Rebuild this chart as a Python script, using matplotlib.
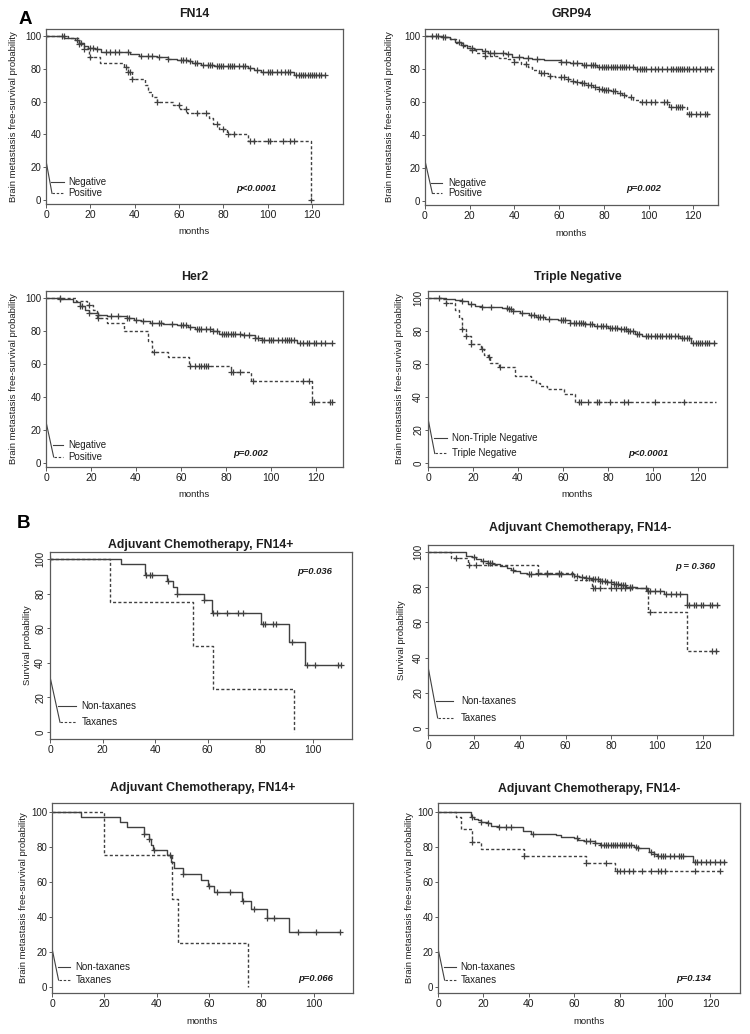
import numpy as np
import matplotlib
matplotlib.use("Agg")
import matplotlib.pyplot as plt

plt.rcParams["font.family"] = ["Liberation Sans", "DejaVu Sans"]

# ---------------- Panel A: FN14 ----------------
fn14_neg_t = [0, 8, 13, 15, 17, 19, 22, 25, 33, 38, 42, 50, 55, 59, 64, 66, 70, 76, 82, 91, 94, 97, 112, 126]
fn14_neg_s = [100, 99, 97.5, 96, 94, 93, 92, 90.5, 90, 89, 88, 87, 86, 85.5, 84.5, 83.5, 82.5, 82, 81.5, 80.5, 79.5, 78, 76, 76]
fn14_neg_c = [7, 14, 16, 20, 21, 23, 27, 29, 31, 33, 37, 43, 46, 48, 51, 55, 61, 62, 63, 65, 67, 68, 71, 73,
              74, 75, 77, 78, 79, 80, 82, 83, 84, 85, 87, 89, 90, 92, 95, 98, 100, 101, 102, 104, 106, 108,
              109, 110, 113, 114, 115, 116, 117, 118, 119, 120, 121, 122, 123, 124, 126]
fn14_pos_t = [0, 10, 15, 17, 19.5, 24.5, 35, 37, 39, 44.5, 46, 48, 50, 57.5, 60.5, 63.5, 73.5, 75.5, 78, 81.5, 91, 119.5]
fn14_pos_s = [100, 99, 95, 92, 87, 83.5, 81, 78, 74, 70, 66, 63, 60, 58, 55.5, 53, 50, 46.5, 43, 40, 36, 0]
fn14_pos_c = [0, 8, 15, 17, 20, 36, 37, 38, 39, 50, 60, 63, 68, 72, 77, 80, 82, 85, 92, 94, 100, 101, 107,
              110, 112, 119.5]

# ---------------- Panel A: GRP94 ----------------
grp_neg_t = [0, 7, 11, 13.5, 16, 19, 22, 25.5, 28, 36, 39, 44, 48, 53, 61, 65, 70, 77, 94, 128]
grp_neg_s = [100, 99.5, 98.5, 96.5, 94.5, 93, 92, 91, 90, 89, 87.5, 86.5, 86, 85.5, 84.5, 83.5, 82.5, 81.5, 80, 80]
grp_neg_c = [3, 6, 9, 15, 17, 21, 27, 29, 31, 35, 37, 42, 46, 50, 61, 63, 66, 68, 71, 72, 74, 75, 76, 78,
             79, 80, 81, 82, 83, 84, 85, 86, 87, 88, 89, 90, 91, 93, 95, 96, 97, 98, 99, 101, 103, 104,
             106, 108, 110, 111, 112, 113, 114, 115, 116, 117, 118, 120, 121, 123, 125, 126, 128]
grp_pos_t = [0, 8, 11, 14, 17, 20, 23, 27, 33, 37, 40, 43, 46, 48, 51, 55, 58, 63, 65, 67, 70, 72, 75, 78,
             80, 83, 86, 88, 90, 93, 96, 109, 117, 128]
grp_pos_s = [100, 99.5, 98, 96, 94, 91.5, 89.5, 88, 87, 86, 84.5, 83, 81.5, 79.5, 77.5, 76, 75, 74, 73, 72,
             71.5, 70.5, 69, 68, 67.5, 66.5, 65.5, 64.5, 63, 61.5, 60, 57, 52.5, 52.5]
grp_pos_c = [5, 8, 21, 27, 40, 45, 52, 53, 56, 61, 62, 64, 66, 68, 70, 71, 73, 74, 76, 78, 79, 80, 81, 82,
             84, 85, 87, 89, 92, 97, 99, 101, 103, 107, 108, 110, 112, 113, 114, 115, 118, 119, 121, 123,
             125, 126]

# ---------------- Panel A: Her2 ----------------
her2_neg_t = [0, 6, 12, 15, 17.5, 19, 23, 27, 36, 39, 42, 46, 52, 58, 63, 66, 70, 74, 77, 87, 93, 96, 111.5, 127]
her2_neg_s = [100, 99.5, 97.5, 95, 93, 91, 90, 89, 88, 86.5, 86, 85, 84.5, 83.5, 82.5, 81.5, 81, 80, 78.5,
              77.5, 76, 74.5, 72.5, 72.5]
her2_neg_c = [6, 15, 16, 19, 23, 29, 32, 36, 37, 40, 43, 47, 50, 51, 56, 60, 61, 62, 64, 67, 68, 69, 71, 73,
              74, 76, 78, 79, 80, 81, 82, 83, 84, 86, 88, 90, 93, 94, 96, 97, 99, 100, 101, 103, 105, 106,
              107, 108, 109, 110, 113, 114, 116, 117, 119, 120, 122, 124, 127]
her2_pos_t = [0, 13.5, 18, 21, 22.5, 27, 34.5, 45.5, 47, 54, 63.5, 82, 91, 118, 127]
her2_pos_s = [100, 98, 96, 93, 88, 85, 80, 74, 67, 64.5, 59, 55, 49.5, 37, 37]
her2_pos_c = [6, 19, 23, 48, 64, 66, 68, 69, 70, 71, 72, 82, 83, 86, 92, 114, 117, 118, 119, 126, 127]

# ---------------- Panel A: Triple Negative ----------------
ntn_t = [0, 8, 12, 15, 18, 21, 24, 33, 36, 38, 41, 45, 48, 52, 58, 63, 70, 74, 80, 85, 89, 92, 95, 112, 117, 127.5]
ntn_s = [100, 99.5, 99, 98, 96.5, 95, 94.5, 94, 93.5, 92, 91, 89.5, 88.5, 87.5, 86.5, 85, 84.5, 83, 82, 81,
         80, 78.5, 77, 75.5, 72.5, 72.5]
ntn_c = [5, 15, 19, 24, 28, 35, 36, 37, 38, 42, 46, 47, 49, 50, 51, 54, 59, 60, 61, 63, 65, 66, 67, 68, 69,
         70, 72, 73, 75, 77, 78, 79, 81, 82, 83, 84, 86, 87, 88, 89, 90, 91, 93, 94, 97, 98, 99, 101, 102,
         103, 104, 106, 107, 108, 110, 111, 113, 114, 115, 116, 118, 119, 120, 121, 122, 123, 124, 125, 127]
tn_t = [0, 6, 8, 12, 14, 15, 17, 19, 23.5, 25, 26.5, 27.5, 31.5, 38.5, 46, 48, 50, 53, 60.5, 65.5, 128]
tn_s = [100, 99.5, 97, 93, 88, 81, 77, 72, 69, 65.5, 64, 60.5, 58, 53, 50, 48.5, 46.5, 45, 42, 37, 37]
tn_c = [8, 15, 17, 19, 24, 27, 32, 67, 68, 71, 75, 76, 81, 87, 89, 101, 114]

# ---------------- Panel B: survival, FN14+ ----------------
b1_ntx_t = [0, 27, 36, 44.5, 47, 48.5, 58.5, 61.5, 80.5, 91, 97, 111]
b1_ntx_s = [100, 97, 91, 87, 83.5, 80, 76, 69, 62.5, 52, 39, 39]
b1_ntx_c = [0, 36.5, 38, 39, 45, 48.5, 58.5, 62, 63.5, 67.5, 71.5, 73.5, 81, 82, 85, 86, 92, 98, 101, 109.5, 111]
b1_tx_t = [0, 23, 54.5, 62, 93]
b1_tx_s = [100, 75, 50, 25, 0]
b1_tx_c = []

# ---------------- Panel B: survival, FN14- ----------------
b2_ntx_t = [0, 16.5, 19, 21, 23, 26, 28.5, 31.5, 34.5, 36, 37.5, 40, 43, 63.5, 66, 69, 72, 75, 78, 81, 84,
            86.5, 91, 95.5, 103, 113, 126.5]
b2_ntx_s = [100, 98, 97, 96, 95, 94, 93, 92, 91, 90, 89, 88, 87.5, 86.5, 86, 85, 84.5, 83.5, 83, 82, 81, 80,
            79.5, 78, 76, 70, 70]
b2_ntx_c = [20, 24, 26, 27, 28, 37, 44, 45, 52, 57, 58, 63, 65, 67, 69, 70, 72, 73, 74, 75, 76, 77, 78, 80,
            81, 82, 83, 84, 85, 86, 88, 89, 95, 96, 97, 99, 101, 104, 106, 108, 110, 113, 114, 116, 117, 119,
            120, 123, 124, 126]
b2_tx_t = [0, 10, 17.5, 48, 63.5, 71.5, 96, 113, 126.5]
b2_tx_s = [100, 96.5, 92.5, 88, 84, 79.5, 66, 44, 44]
b2_tx_c = [12, 18, 21, 48, 52, 57, 72, 73, 75, 80, 82, 84, 86, 88, 97, 124, 125.5]

# ---------------- Panel B: brain metastasis, FN14+ ----------------
b3_ntx_t = [0, 11, 26, 28.5, 35, 37, 38, 38.5, 44, 45.5, 46.5, 50, 57, 59.5, 62, 72.5, 76, 82, 90.5, 110]
b3_ntx_s = [100, 97, 94, 91, 87.5, 84.5, 81, 78, 75, 71.5, 68, 64.5, 61, 57.5, 54, 49, 44.5, 39.5, 31.5, 31.5]
b3_ntx_c = [35, 37, 39, 45, 50, 60, 63, 68, 73, 77, 82, 85, 94, 101, 110]
b3_tx_t = [0, 20, 46, 48, 75]
b3_tx_s = [100, 75, 50, 25, 0]
b3_tx_c = []

# ---------------- Panel B: brain metastasis, FN14- ----------------
b4_ntx_t = [0, 14.5, 16, 17.5, 19, 22, 23.5, 26.5, 37.5, 41, 52, 54, 60, 61.5, 64.5, 69, 71.5, 86.5, 88, 93,
            95, 96.5, 112.5, 126.5]
b4_ntx_s = [100, 97, 96, 95, 94, 93.5, 92, 91, 89, 87.5, 86.5, 85.5, 85, 84, 83, 82, 81, 80, 79.5, 77, 76,
            74.5, 71.5, 71.5]
b4_ntx_c = [15, 19, 22, 27, 30, 32, 42, 61, 65, 67, 69, 72, 73, 74, 75, 76, 77, 78, 79, 80, 81, 82, 83, 84,
            85, 87, 88, 94, 95, 97, 98, 99, 100, 102, 104, 106, 107, 108, 113, 114, 116, 118, 120, 122, 124, 126]
b4_tx_t = [0, 8, 10, 15, 19, 38, 65, 78, 125]
b4_tx_s = [100, 97, 90, 82.5, 78.5, 74.5, 70.5, 66, 66]
b4_tx_c = [15, 38, 65, 74, 79, 80, 82, 84, 86, 90, 94, 97, 98, 100, 113, 124]

titles = ["FN14", "GRP94", "Her2", "Triple Negative",
          "Adjuvant Chemotherapy, FN14+", "Adjuvant Chemotherapy, FN14-",
          "Adjuvant Chemotherapy, FN14+", "Adjuvant Chemotherapy, FN14-"]
pvalues = ["p<0.0001", "p=0.002", "p=0.002", "p<0.0001", "p=0.036", "p = 0.360", "p=0.066", "p=0.134"]
legend_a = ["Negative", "Positive"]
legend_tn = ["Non-Triple Negative", "Triple Negative"]
legend_b = ["Non-taxanes", "Taxanes"]
ylab_bm = "Brain metastasis free-survival probability"
ylab_os = "Survival probability"

LINE = "#404040"
FRAME = "#5a5a5a"
TXT = "#1e1e1e"
DASH = (0, (2.2, 1.6))
W, H = 750, 1034

panels = [
    dict(box=(46, 29, 343, 204), xmax=134, xt=range(0, 121, 20), ylim=(-2.5, 104.3), rot=False,
         curves=[(fn14_neg_t, fn14_neg_s, fn14_neg_c), (fn14_pos_t, fn14_pos_s, fn14_pos_c)],
         leg=legend_a, legpos=(24, 11, 4, 2.7, 8, 10), p=(86, 7), ylab=ylab_bm, ylpad=33, months=True, tgap=15),
    dict(box=(425, 29, 718, 205), xmax=131, xt=range(0, 121, 20), ylim=(-2.5, 104.3), rot=False,
         curves=[(grp_neg_t, grp_neg_s, grp_neg_c), (grp_pos_t, grp_pos_s, grp_pos_c)],
         leg=legend_a, legpos=(24.4, 11, 4.5, 3.3, 7.8, 10.5), p=(90, 7.5), ylab=ylab_bm, ylpad=36, months=True, tgap=15),
    dict(box=(46, 291, 343, 467), xmax=132, xt=range(0, 121, 20), ylim=(-2.5, 104.3), rot=False,
         curves=[(her2_neg_t, her2_neg_s, her2_neg_c), (her2_pos_t, her2_pos_s, her2_pos_c)],
         leg=legend_a, legpos=(25, 10.7, 3.6, 3.4, 7.5, 10), p=(83, 5.7), ylab=ylab_bm, ylpad=33, months=True, tgap=14),
    dict(box=(428, 291, 727, 467), xmax=133, xt=range(0, 121, 20), ylim=(-2.5, 104.3), rot=True,
         curves=[(ntn_t, ntn_s, ntn_c), (tn_t, tn_s, tn_c)],
         leg=legend_tn, legpos=(27, 15.4, 5.7, 3, 8.6, 10.7), p=(89, 5.7), ylab=ylab_bm, ylpad=28, months=True, tgap=14),
    dict(box=(50, 552, 352, 739), xmax=115, xt=range(0, 101, 20), ylim=(-4, 104), rot=True,
         curves=[(b1_ntx_t, b1_ntx_s, b1_ntx_c), (b1_tx_t, b1_tx_s, b1_tx_c)],
         leg=legend_b, legpos=(32, 15, 5.7, 3.8, 10, 12), p=(94, 93), ylab=ylab_os, ylpad=22, months=False, tgap=7),
    dict(box=(428, 545, 733, 735), xmax=133, xt=range(0, 121, 20), ylim=(-4, 104), rot=True,
         curves=[(b2_ntx_t, b2_ntx_s, b2_ntx_c), (b2_tx_t, b2_tx_s, b2_tx_c)],
         leg=legend_b, legpos=(35, 15.2, 5.7, 4.2, 10.7, 14.4), p=(108, 92), ylab=ylab_os, ylpad=26, months=False, tgap=17),
    dict(box=(52, 803, 353, 993), xmax=115, xt=range(0, 101, 20), ylim=(-3.6, 105), rot=False,
         curves=[(b3_ntx_t, b3_ntx_s, b3_ntx_c), (b3_tx_t, b3_tx_s, b3_tx_c)],
         leg=legend_b, legpos=(22, 11, 3.8, 2.5, 7, 9), p=(94, 4.8), ylab=ylab_bm, ylpad=29, months=True, tgap=15),
    dict(box=(438, 803, 740, 993), xmax=133, xt=range(0, 121, 20), ylim=(-3.6, 105), rot=False,
         curves=[(b4_ntx_t, b4_ntx_s, b4_ntx_c), (b4_tx_t, b4_tx_s, b4_tx_c)],
         leg=legend_b, legpos=(22, 11, 3.8, 2.9, 8, 10), p=(105, 4.8), ylab=ylab_bm, ylpad=28, months=True, tgap=14),
]


def km(ax, t, s, cens, dashed):
    ls = DASH if dashed else "-"
    ax.step(t, s, where="post", color=LINE, lw=1.0, linestyle=ls)
    if cens:
        t_arr = np.asarray(t)
        idx = np.searchsorted(t_arr, cens, side="right") - 1
        cy = np.asarray(s)[idx]
        ax.plot(cens, cy, "+", color=LINE, ms=5, mew=0.9)


fig = plt.figure(figsize=(W / 100, H / 100), dpi=100)

for i, p in enumerate(panels):
    l, t, r, b = p["box"]
    ax = fig.add_axes([l / W, 1 - b / H, (r - l) / W, (b - t) / H])
    for j, (ct, cs, cc) in enumerate(p["curves"]):
        km(ax, ct, cs, cc, dashed=(j == 1))
    ax.set_xlim(0, p["xmax"])
    ax.set_ylim(*p["ylim"])
    ax.set_xticks(list(p["xt"]))
    ax.set_yticks(range(0, 101, 20))
    ax.tick_params(axis="x", labelsize=7.5, length=3, pad=1.5, colors=FRAME, labelcolor=TXT, width=0.7)
    ax.tick_params(axis="y", labelsize=7, length=2.5, pad=1, colors=FRAME, labelcolor=TXT, width=0.7)
    if p["rot"]:
        for lab in ax.get_yticklabels():
            lab.set_rotation(90)
            lab.set_va("center")
    for sp in ax.spines.values():
        sp.set_color(FRAME)
        sp.set_linewidth(0.9)

    # R style legend with connector line from the axis
    top, ysol, ydash, x0, x1, xtxt = p["legpos"]
    ax.plot([0, x0], [top, ydash], color=LINE, lw=0.8)
    ax.plot([x0 * 0.85, x1], [ysol, ysol], color=LINE, lw=0.8)
    ax.plot([x0, x1], [ydash, ydash], color=LINE, lw=0.8, linestyle=DASH)
    ax.text(xtxt, ysol, p["leg"][0], fontsize=7, va="center", color=TXT)
    ax.text(xtxt, ydash, p["leg"][1], fontsize=7, va="center", color=TXT)

    ax.text(p["p"][0], p["p"][1], pvalues[i], fontsize=6.8, fontweight="bold", fontstyle="italic",
            va="center", color=TXT)

    ax.annotate(titles[i], xy=(0.5, 1), xycoords="axes fraction", xytext=(0, p["tgap"] * 0.72),
                textcoords="offset points", ha="center", va="center", fontsize=8.8,
                fontweight="bold", color=TXT)
    ax.annotate(p["ylab"], xy=(0, 0.5), xycoords="axes fraction", xytext=(-p["ylpad"] * 0.72, 0),
                textcoords="offset points", ha="center", va="center", rotation=90, fontsize=6.8, color=TXT)
    if p["months"]:
        ax.annotate("months", xy=(0.5, 0), xycoords="axes fraction", xytext=(0, -28 * 0.72),
                    textcoords="offset points", ha="center", va="center", fontsize=6.8, color=TXT)

fig.text(25 / W, 1 - 20 / H, "A", fontsize=13.5, fontweight="bold", ha="center", va="center")
fig.text(23 / W, 1 - 523 / H, "B", fontsize=13.5, fontweight="bold", ha="center", va="center")

fig.savefig("out.png", dpi=100, facecolor="white")
